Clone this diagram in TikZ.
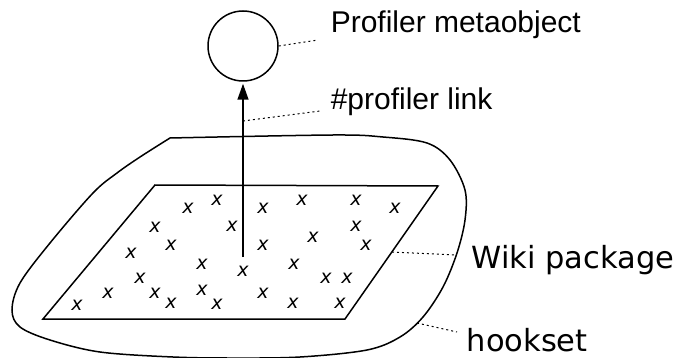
\documentclass[tikz,border=0pt]{standalone}
\usepackage{fontspec}
\usetikzlibrary{arrows.meta}
\setmainfont{DejaVu Sans}
\newfontfamily\arialfont{Liberation Sans}
\tikzset{
 lead/.style={line width=1pt,dash pattern=on 2pt off 3pt},
 lbl/.style={anchor=base west,inner sep=0pt,font=\fontsize{30.5}{34}\selectfont},
 hookmark/.style={inner sep=0pt,font=\fontsize{19}{22}\selectfont\itshape}
}
\begin{document}
\begin{tikzpicture}[>={Triangle[length=16pt,width=11pt]},x=1pt,y=-1pt,line width=1.5pt]
 \useasboundingbox (0,0) rectangle (676,358);
 % hookset outline
 \draw[smooth,tension=0.55] plot coordinates {(170,138) (333,135) (383,137) (427,143) (450,160)
   (465,190) (465,220) (457,253) (443,287) (423,317) (400,337) (367,350) (300,357) (233,358)
   (173,357) (100,352) (50,340) (20,327) (12,310) (20,283) (50,243) (93,193) (117,173) (140,157) (170,138)};
 \coordinate (hookrim) at (417,323);
 \coordinate (pkgrim) at (455,255);
 % package
 \draw (155,185) -- (438,186) -- (345,319) -- (43,319) -- cycle;
 \coordinate (pkgedge) at (392,252);
 % hooks
 \foreach \a/\b in {188/208,217/200,263/208,302/200,356/200,395/208,
   155/227,232/226,356/226,171/245,263/245,313/237,366/245,131/253,
   202/264,243/271,294/264,140/278,326/278,347/278,
   108/293,155/293,202/290,263/293,77/305,171/303,217/304,293/303,340/303}
   \node[hookmark] at (\a,\b) {x};
 % metaobject and link
 \node[circle,draw,inner sep=0pt,minimum size=70pt] (meta) at (243,46) {};
 \coordinate (src) at (243,257);
 \draw[->,shorten >=2pt] (src) -- (meta);
 \coordinate (linkpt) at (243,121);
 % labels
 \node[lbl,font=\fontsize{30}{34}\arialfont] (metalbl) at (330,33) {Profiler metaobject};
 \node[lbl,font=\fontsize{30}{34}\arialfont] (linklbl) at (330,110) {\#profiler link};
 \node[lbl] (pkglbl) at (471,268) {Wiki package};
 \node[lbl] (hooklbl) at (466,351) {hookset};
 \coordinate (metaend) at (318,40);
 \coordinate (linkend) at (320,111);
 \coordinate (hookend) at (457,332);
 \draw[lead] (meta.east) -- (metaend);
 \draw[lead] (linkpt) -- (linkend);
 \draw[lead] (pkgedge) -- (pkgrim);
 \draw[lead] (hookrim) -- (hookend);
\end{tikzpicture}
\end{document}
